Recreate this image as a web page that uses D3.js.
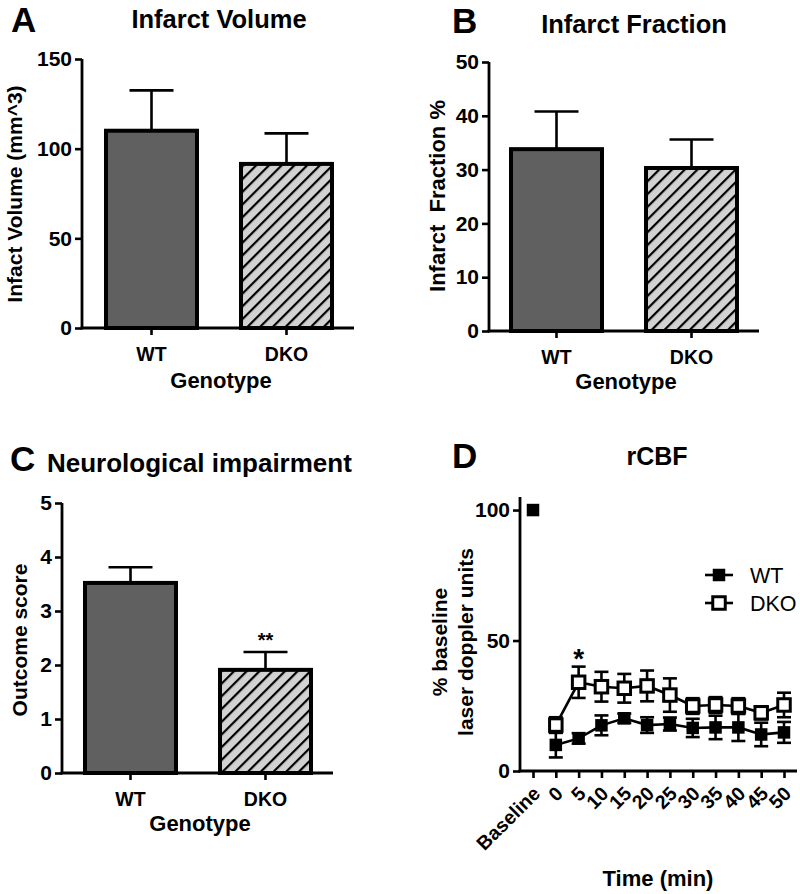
<!DOCTYPE html>
<html>
<head>
<meta charset="utf-8">
<script src="https://cdn.jsdelivr.net/npm/d3@7"></script>
<style>
  html, body { margin: 0; padding: 0; background: #fff; }
  svg { display: block; font-family: "Liberation Sans", Arial, Helvetica, sans-serif; }
</style>
</head>
<body>
<svg id="chart" width="800" height="894"></svg>
<script>
// ---------- DATA ----------
const genotypes = ["WT", "DKO"];

const volumeMean = [110, 91.5];
const volumeSem = [22.5, 17];
const volumeTicks = [0, 50, 100, 150];

const fractionMean = [33.8, 30.3];
const fractionSem = [7, 5.3];
const fractionTicks = [0, 10, 20, 30, 40, 50];

const outcomeMean = [3.52, 1.91];
const outcomeSem = [0.29, 0.33];
const outcomeTicks = [0, 1, 2, 3, 4, 5];

const timeLabels = ["Baseline", "0", "5", "10", "15", "20", "25", "30", "35", "40", "45", "50"];
const wtMean = [100, 10, 12.5, 17.5, 20.2, 17.6, 18, 16.5, 16.7, 16.7, 14, 14.8];
const wtSem  = [0, 4.8, 2, 3.8, 1.8, 3, 2.5, 3.5, 4.5, 5.2, 4.5, 4];
const dkoMean = [null, 17.6, 34, 32.3, 31.7, 32.6, 29.1, 24.9, 25.3, 24.9, 22.3, 25.3];
const dkoSem  = [null, 3, 6, 5.7, 5.5, 5.9, 6.4, 3, 3, 3, 2.5, 4.7];
const rcbfTicks = [0, 50, 100];

// ---------- SETUP ----------
const svg = d3.select("#chart");
const defs = svg.append("defs");
const pat = defs.append("pattern")
  .attr("id", "hatch")
  .attr("patternUnits", "userSpaceOnUse")
  .attr("width", 9).attr("height", 9)
  .attr("patternTransform", "rotate(45)");
pat.append("rect").attr("width", 9).attr("height", 9).attr("fill", "#d2d2d2");
pat.append("line").attr("x1", 0).attr("y1", 0).attr("x2", 0).attr("y2", 9)
  .attr("stroke", "#000").attr("stroke-width", 4.4);

function styleAxis(g) {
  g.selectAll("path.domain").remove();
  g.selectAll(".tick line").attr("stroke", "#000").attr("stroke-width", 2.6);
  g.selectAll(".tick text").attr("fill", "#000").attr("font-weight", "bold");
}

function barPanel(o) {
  const g = svg.append("g");
  const y = d3.scaleLinear().domain([0, o.yMax]).range([o.y0, o.y1]);
  const x = d3.scaleBand().domain(genotypes).range(o.xRange)
    .paddingInner(0.326).paddingOuter(0.163);

  const ya = g.append("g").attr("transform", `translate(${o.axisX},0)`)
    .call(d3.axisLeft(y).tickValues(o.ticks).tickSize(7).tickPadding(3).tickFormat(d3.format("d")));
  styleAxis(ya);
  ya.selectAll(".tick text").attr("font-size", 21);

  const xa = g.append("g").attr("transform", `translate(0,${o.y0})`)
    .call(d3.axisBottom(x).tickSize(7).tickPadding(8));
  styleAxis(xa);
  xa.selectAll(".tick text").attr("font-size", 19.5).attr("dy", "0.9em");

  g.append("line").attr("x1", o.axisX).attr("x2", o.axisX)
    .attr("y1", o.y0 + 1.3).attr("y2", y(o.yMax))
    .attr("stroke", "#000").attr("stroke-width", 2.8);
  g.append("line").attr("x1", o.axisX - 1.3).attr("x2", o.xEnd)
    .attr("y1", o.y0).attr("y2", o.y0)
    .attr("stroke", "#000").attr("stroke-width", 2.8);

  genotypes.forEach((k, i) => {
    const cx = x(k) + x.bandwidth() / 2;
    g.append("line").attr("x1", cx).attr("x2", cx)
      .attr("y1", y(o.mean[i])).attr("y2", y(o.mean[i] + o.sem[i]))
      .attr("stroke", "#000").attr("stroke-width", 2.6);
    g.append("line").attr("x1", cx - 22).attr("x2", cx + 22)
      .attr("y1", y(o.mean[i] + o.sem[i])).attr("y2", y(o.mean[i] + o.sem[i]))
      .attr("stroke", "#000").attr("stroke-width", 2.6);
  });

  g.selectAll("rect.bar").data(genotypes).join("rect")
    .attr("class", "bar")
    .attr("x", d => x(d))
    .attr("width", x.bandwidth())
    .attr("y", (d, i) => y(o.mean[i]))
    .attr("height", (d, i) => o.y0 - y(o.mean[i]))
    .attr("fill", (d, i) => i === 0 ? "#606060" : "url(#hatch)")
    .attr("stroke", "#000").attr("stroke-width", 4);

  g.append("text").attr("x", o.letterX).attr("y", o.letterY)
    .attr("font-size", 35).attr("font-weight", "bold").text(o.letter);
  g.append("text").attr("x", o.titleX).attr("y", o.titleY)
    .attr("text-anchor", o.titleAnchor || "middle")
    .attr("font-size", o.titleSize || 25.5).attr("font-weight", "bold").text(o.title);
  g.append("text")
    .attr("transform", `translate(${o.ylabX},${o.ylabY}) rotate(-90)`)
    .attr("text-anchor", "middle").attr("font-size", o.ylabSize || 21).attr("font-weight", "bold")
    .attr("xml:space", "preserve")
    .text(o.ylab);
  g.append("text").attr("x", (o.xRange[0] + o.xRange[1]) / 2 + 2).attr("y", o.genoY)
    .attr("text-anchor", "middle").attr("font-size", 22).attr("font-weight", "bold")
    .text("Genotype");
  return { g, x, y };
}

// Panel A
barPanel({
  axisX: 82, xEnd: 354, xRange: [84, 354], y0: 328, y1: 59, yMax: 150,
  ticks: volumeTicks, mean: volumeMean, sem: volumeSem,
  letter: "A", letterX: 11, letterY: 32,
  title: "Infarct Volume", titleX: 219, titleY: 28,
  ylab: "Infact Volume (mm^3)", ylabX: 22, ylabY: 194, genoY: 388
});

// Panel B
barPanel({
  axisX: 489, xEnd: 759, xRange: [489, 759], y0: 331, y1: 62, yMax: 50,
  ticks: fractionTicks, mean: fractionMean, sem: fractionSem,
  letter: "B", letterX: 452, letterY: 33,
  title: "Infarct Fraction", titleX: 634, titleY: 33,
  ylab: "Infarct  Fraction %", ylabX: 445, ylabY: 196, ylabSize: 22, genoY: 389
});

// Panel C
const pc = barPanel({
  axisX: 62, xEnd: 333, xRange: [63, 333], y0: 773, y1: 503, yMax: 5,
  ticks: outcomeTicks, mean: outcomeMean, sem: outcomeSem,
  letter: "C", letterX: 10, letterY: 471,
  title: "Neurological impairment", titleX: 47, titleY: 472, titleAnchor: "start", titleSize: 26,
  ylab: "Outcome score", ylabX: 27, ylabY: 640, genoY: 831
});
pc.g.append("text")
  .attr("x", pc.x("DKO") + pc.x.bandwidth() / 2).attr("y", pc.y(outcomeMean[1] + outcomeSem[1]) - 5)
  .attr("text-anchor", "middle").attr("font-size", 20).attr("font-weight", "bold").text("**");

// Panel D
(function () {
  const g = svg.append("g");
  const axisX = 520, y0 = 771;
  const x = d3.scalePoint().domain(timeLabels).range([533, 784]);
  const y = d3.scaleLinear().domain([0, 105]).range([y0, 497]);

  const ya = g.append("g").attr("transform", `translate(${axisX},0)`)
    .call(d3.axisLeft(y).tickValues(rcbfTicks).tickSize(7).tickPadding(3));
  styleAxis(ya);
  ya.selectAll(".tick text").attr("font-size", 21);

  const xa = g.append("g").attr("transform", `translate(0,${y0})`)
    .call(d3.axisBottom(x).tickSize(7).tickPadding(4));
  styleAxis(xa);
  xa.selectAll(".tick text")
    .attr("font-size", 19.5)
    .attr("text-anchor", "end")
    .attr("x", 0).attr("y", 0)
    .attr("dy", "0.35em")
    .attr("transform", "translate(3,19) rotate(-45)");

  g.append("line").attr("x1", axisX).attr("x2", axisX)
    .attr("y1", y0 + 1.3).attr("y2", y(105))
    .attr("stroke", "#000").attr("stroke-width", 2.8);
  g.append("line").attr("x1", axisX - 1.3).attr("x2", 797)
    .attr("y1", y0).attr("y2", y0)
    .attr("stroke", "#000").attr("stroke-width", 2.8);

  function series(mean, sem, filled, size) {
    const pts = timeLabels.map((t, i) => ({ t, m: mean[i], s: sem[i], i }))
      .filter(d => d.m !== null);
    const linePts = pts.filter(d => d.t !== "Baseline");
    g.append("path").datum(linePts)
      .attr("d", d3.line().x(d => x(d.t)).y(d => y(d.m)))
      .attr("fill", "none").attr("stroke", "#000").attr("stroke-width", 2.6);
    pts.forEach(d => {
      if (!d.s) return;
      const cx = x(d.t);
      g.append("line").attr("x1", cx).attr("x2", cx)
        .attr("y1", y(d.m - d.s)).attr("y2", y(d.m + d.s))
        .attr("stroke", "#000").attr("stroke-width", 2.6);
      [d.m - d.s, d.m + d.s].forEach(v => {
        g.append("line").attr("x1", cx - 7).attr("x2", cx + 7)
          .attr("y1", y(v)).attr("y2", y(v))
          .attr("stroke", "#000").attr("stroke-width", 2.6);
      });
    });
    pts.forEach(d => {
      g.append("rect")
        .attr("x", x(d.t) - size / 2).attr("y", y(d.m) - size / 2)
        .attr("width", size).attr("height", size)
        .attr("fill", filled ? "#000" : "#fff")
        .attr("stroke", "#000").attr("stroke-width", filled ? 0 : 3);
    });
  }
  series(wtMean, wtSem, true, 12.5);
  series(dkoMean, dkoSem, false, 12.5);

  g.append("text").attr("x", x("5")).attr("y", y(dkoMean[2] + dkoSem[2]) + 1)
    .attr("text-anchor", "middle").attr("font-size", 28).attr("font-weight", "bold").text("*");

  const leg = [{ name: "WT", filled: true, yy: 575 }, { name: "DKO", filled: false, yy: 603 }];
  leg.forEach(l => {
    g.append("line").attr("x1", 705).attr("x2", 733).attr("y1", l.yy).attr("y2", l.yy)
      .attr("stroke", "#000").attr("stroke-width", 2.6);
    g.append("rect").attr("x", 719 - 6.25).attr("y", l.yy - 6.25)
      .attr("width", 12.5).attr("height", 12.5)
      .attr("fill", l.filled ? "#000" : "#fff")
      .attr("stroke", "#000").attr("stroke-width", l.filled ? 0 : 3);
    g.append("text").attr("x", 750).attr("y", l.yy + 7.5)
      .attr("font-size", 21.5).text(l.name);
  });

  g.append("text").attr("x", 452).attr("y", 468)
    .attr("font-size", 35).attr("font-weight", "bold").text("D");
  g.append("text").attr("x", 657).attr("y", 465)
    .attr("text-anchor", "middle").attr("font-size", 25).attr("font-weight", "bold").text("rCBF");
  g.append("text").attr("transform", "translate(447,642) rotate(-90)")
    .attr("text-anchor", "middle").attr("font-size", 21).attr("font-weight", "bold").text("% baseline");
  g.append("text").attr("transform", "translate(473,642) rotate(-90)")
    .attr("text-anchor", "middle").attr("font-size", 21).attr("font-weight", "bold").text("laser doppler units");
  g.append("text").attr("x", 658).attr("y", 886)
    .attr("text-anchor", "middle").attr("font-size", 22).attr("font-weight", "bold").text("Time (min)");
})();
</script>
</body>
</html>
